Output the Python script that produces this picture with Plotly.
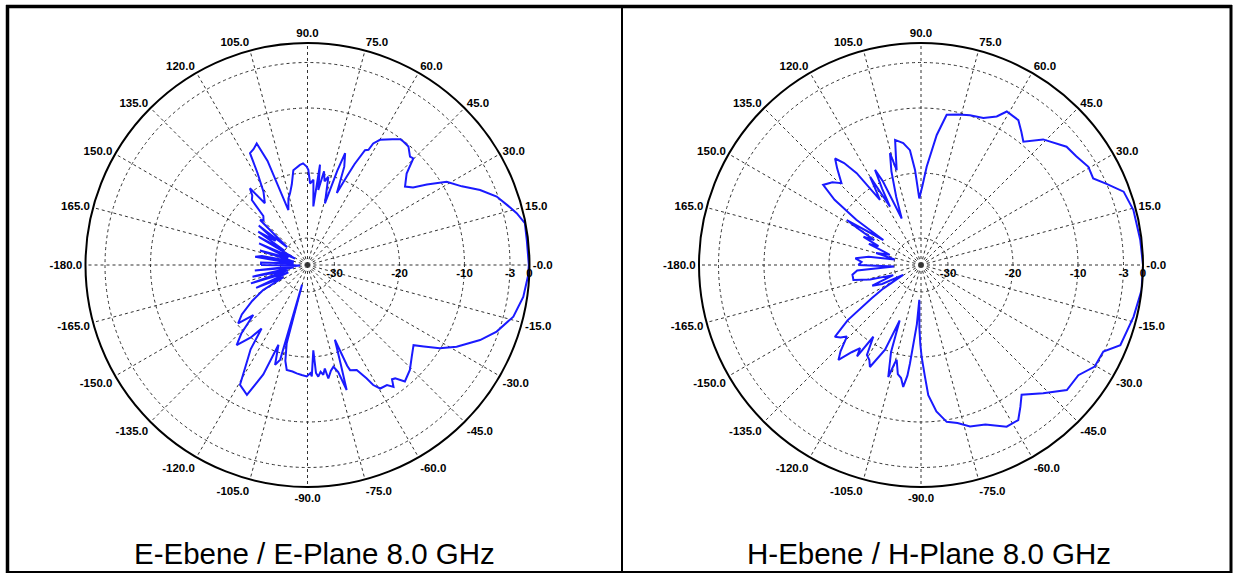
import plotly.graph_objects as go

# E-plane (angle deg, level dB)
e_theta = [-180, -177, -174, -171, -168, -165, -162, -159, -156, -153, -150.5, -147, -143, -139.9, -137.3,
           -134, -131.5, -128, -125.9, -124, -122.8, -119.4, -115, -112, -110, -108, -106.1, -105.5, -104.9,
           -103, -101.2, -98, -95.7, -93, -90.4, -88.5, -87.8, -86.1, -85.5, -84.5, -83, -81.8, -80.5, -79.6,
           -77.5, -75.7, -74, -72.6, -71.5, -69.9, -68.5, -67.96, -64.9, -62.5, -61.3, -59.5, -56.5, -54.8,
           -53.5, -52.3, -50.1, -45.7, -41.3, -37.1, -35, -32.2, -28.7, -23.5, -19.4, -14.1, -8.4, -3, 0,
           6.5, 10.9, 13.9, 16.5, 19.9, 23.5, 27, 30.9, 34, 36.3, 38.8, 42.7, 45.2, 46.6, 49.6, 52.2, 53.6,
           56, 59.9, 61.6, 62.1, 63.4, 65, 66.1, 67.8, 69.5, 71.4, 72.5, 74.2, 76.7, 78.5, 80, 81.8, 82.9,
           84.3, 86, 88.2, 89.5, 90.5, 92.5, 94.3, 98.5, 101, 103.7, 106, 109.2, 111, 112.7, 115, 117.2,
           118.5, 121, 124.6, 126.9, 128.5, 130.6, 132, 134.5, 136.5, 139, 141, 143, 145.9, 148, 150, 153,
           156, 160, 163, 166, 169, 171, 174, 177, 180]
e_db = [-27, -33, -26, -32, -25.5, -31, -25, -31, -25.5, -30, -26.3, -24, -21.5, -20.2, -22.8,
        -19.5, -17.7, -20, -22.1, -18.5, -17.4, -13, -12.1, -16, -21.1, -18, -19, -31, -21.7,
        -19, -17.7, -17.6, -17.4, -17.2, -17, -17.5, -17, -21, -17.5, -16.9, -17.6, -17.1, -18, -16.4,
        -17.5, -18, -17, -14, -18, -21.9, -17.5, -16.7, -16.3, -14.5, -13.1, -12.1, -12, -11.2,
        -12.3, -12.1, -10.8, -11.6, -12.8, -13.7, -12.3, -10.1, -8, -5.2, -3.3, -1.5, -0.6, -0.2, -0.1,
        -0.2, -0.1, -1.0, -2, -3.2, -5.2, -7.5, -9.2, -12, -14, -14.9, -13.4, -11.05, -11.2, -10.2, -10.1, -10.1,
        -10.8, -11.9, -12.9, -14.1, -14.4, -17, -19.3, -22.2, -18, -16.0, -19, -24.3, -20.2, -21, -19.5, -22.5, -18.6,
        -25.1, -21, -21.6, -19.5, -19.0, -18.5, -18.7, -19.4, -21.5, -22.8, -23.5, -25.2, -17, -13.9, -14.5, -14.8,
        -18, -21, -22.6, -19.4, -20.5, -21, -24, -24.5, -24.1, -30, -24.5, -28, -25, -30, -25.5, -32,
        -26, -31, -26.5, -32, -27, -26, -32, -27, -27]

# H-plane (angle deg, level dB)
h_theta = [-180, -177, -175, -172, -167.5, -164, -160, -157, -154, -151, -148, -146, -143, -140.2, -138,
           -136, -133, -131, -128.5, -126.2, -125, -123.6, -121, -118.5, -116.6, -113, -111, -109, -106.3,
           -105, -104.4, -102, -100, -98.3, -97, -96.4, -94, -92.8, -91.5, -90.5, -89.6, -88, -86.8, -84,
           -80.7, -77, -73.1, -68, -62.1, -57.9, -55, -52.2, -46.4, -40.6, -35, -30.3, -25.4, -21.9, -13.7,
           -6.5, 0, 6.5, 14.5, 19.9, 23.6, 26.7, 30.4, 35, 39.1, 45.8, 50.3, 53, 56.1, 60.8, 63, 67, 71.9,
           76, 80.3, 83.1, 86.7, 89, 91.5, 93.6, 95.5, 98.3, 101.7, 103, 104.4, 105.5, 107.5, 110, 112.5,
           114.5, 115.8, 117, 118, 120, 121, 122.2, 125, 127, 128.9, 131, 134.2, 137, 140.7, 143, 145,
           146.4, 148.8, 150, 152, 153.9, 156, 158, 160, 162, 165, 168, 171, 174.2, 177, 180]
h_db = [-24.5, -30, -24.3, -23.5, -23.5, -26, -29.6, -26, -27.5, -31, -27.3, -25, -20, -16.9, -17.5,
        -18.3, -16, -14.8, -17, -18.3, -17, -20.9, -18, -17.5, -16.6, -20, -25, -20, -16.2,
        -18.5, -19.1, -17, -16.5, -15.2, -17, -18.9, -25, -28.8, -24.5, -22, -20.0, -17, -14.1, -11.5,
        -9.7, -9.2, -8.2, -7.7, -6, -6, -7.5, -8.9, -6.9, -4.6, -4.6, -3.2, -3.1, -1.1, -0.5,
        0, 0, -0.2, -0.4, -1.0, -3, -4.5, -4.3, -5, -5.3, -7.2, -9.5, -8.5, -7.3, -7.1, -8.5, -9.6, -9.9,
        -10.3, -10.7, -14, -19, -22, -23.9, -19.5, -16.4, -15.2, -14.5, -17, -19.1, -16.3, -19, -23, -26.4,
        -20, -17.9, -21, -24, -18.5, -20.5, -22.3, -16.9, -14.5, -13.1, -14.5, -16.6, -15.5, -14.7, -17.5, -22,
        -27.2, -20.8, -23, -26, -24.3, -27, -25.5, -28, -29.1, -27, -30, -26, -24, -25, -24.5]

ang_vals = list(range(0, 360, 15))
ang_text = ["-0.0" if a == 0 else ("%.1f" % a if a <= 180 else "%.1f" % (a - 360)) for a in ang_vals]
ang_text = ["-180.0" if t == "180.0" else t for t in ang_text]
rad_vals = [-30, -20, -10, -3, 0]
rad_text = ["-30", "-20", "-10", "-3", "0"]
captions = ["E-Ebene / E-Plane 8.0 GHz", "H-Ebene / H-Plane 8.0 GHz"]

W, H = 1238, 574
fig = go.Figure()
fig.add_trace(go.Scatterpolar(theta=e_theta, r=e_db, mode="lines", subplot="polar",
                              line=dict(color="#1a1aff", width=2), showlegend=False))
fig.add_trace(go.Scatterpolar(theta=h_theta, r=h_db, mode="lines", subplot="polar2",
                              line=dict(color="#1a1aff", width=2), showlegend=False))

tickfont = dict(family="Arial, Liberation Sans", size=11.5, color="black", weight="bold")


def polar_layout(cx):
    x0 = (cx - 222) / W
    x1 = (cx + 222) / W
    return dict(
        domain=dict(x=[x0, x1], y=[1 - 487 / H, 1 - 43 / H]),
        bgcolor="white",
        angularaxis=dict(rotation=0, direction="counterclockwise", tickmode="array",
                         tickvals=ang_vals, ticktext=ang_text, ticks="", showline=True,
                         linecolor="black", linewidth=2, gridcolor="#333", gridwidth=1,
                         griddash="dot", tickfont=tickfont),
        radialaxis=dict(range=[-34.15, 0], tickmode="array", tickvals=rad_vals, ticktext=rad_text,
                        angle=0, showline=False, ticks="", gridcolor="#333", gridwidth=1,
                        griddash="dot", tickfont=tickfont, side="clockwise"),
    )


fig.update_layout(
    width=W, height=H, margin=dict(l=0, r=0, t=0, b=0),
    paper_bgcolor="white", plot_bgcolor="white",
    polar=polar_layout(307.5), polar2=polar_layout(921),
)

for cx, txt in zip([314.5, 929], captions):
    fig.add_annotation(x=cx / W, y=1 - 553 / H, xref="paper", yref="paper", text=txt, showarrow=False,
                       font=dict(family="Arial, Liberation Sans", size=29.5, color="black"),
                       xanchor="center", yanchor="middle")

def hline(x0, x1, y, w):
    fig.add_shape(type="line", xref="paper", yref="paper", x0=x0 / W, x1=x1 / W,
                  y0=1 - y / H, y1=1 - y / H, line=dict(color="black", width=w))

def vline(x, y0, y1, w):
    fig.add_shape(type="line", xref="paper", yref="paper", x0=x / W, x1=x / W,
                  y0=1 - y0 / H, y1=1 - y1 / H, line=dict(color="black", width=w))

hline(6, 1232, 6.5, 3.5)
hline(6, 1232, 572, 2)
vline(7.5, 5, 573, 3.5)
vline(1231, 5, 573, 3)
vline(622, 5, 573, 2)

fig.write_html("out.html", config={"displayModeBar": False},
               post_script="document.body.style.margin='0';document.body.style.overflow='hidden';")
